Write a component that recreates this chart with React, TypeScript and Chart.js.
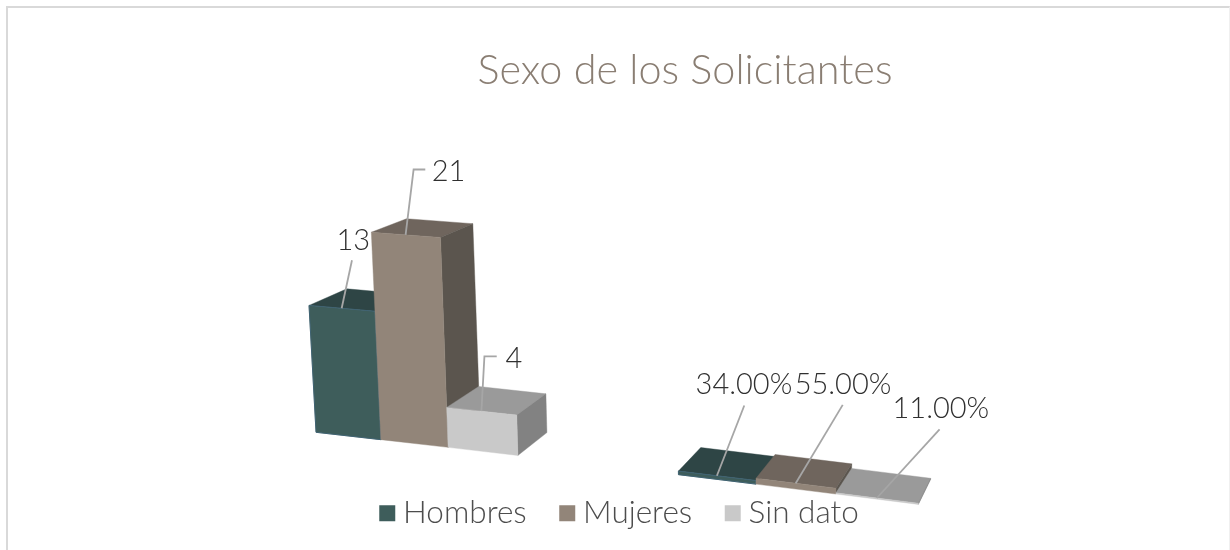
import React, { useEffect, useRef } from "react";
import { Chart, registerables } from "chart.js";

Chart.register(...registerables);

const chartTitle = "Sexo de los Solicitantes";
const groups = ["Cantidad", "Porcentaje"];
const hombres = [13, 0.34];
const mujeres = [21, 0.55];
const sinDato = [4, 0.11];

const FONT = "Lato, 'Open Sans', sans-serif";

const faceColors = [
  { front: "#3e5d5b", top: "#2e4545", side: "#2e4545", edge: "#3f6272" },
  { front: "#928579", top: "#6f655d", side: "#5b554e", edge: "" },
  { front: "#c9c9c9", top: "#9a9a9a", side: "#828282", edge: "" },
];

// label placement relative to the middle of each bar's top front edge: [text, line start, optional knee]
const labelLayout = [
  [
    { text: [11.6, -68], start: [10.3, -48] },
    { text: [27, -91], start: [27.4, -70.3] },
  ],
  [
    { text: [43, -63], start: [19.7, -65.3], knee: [8, -65.3] },
    { text: [47.3, -99], start: [47, -78.3] },
  ],
  [
    { text: [32.5, -53], start: [15.3, -54.7], knee: [3, -54.7] },
    { text: [64, -89], start: [62.7, -68.7] },
  ],
];

// perspective of the picture plane
function project(u: number, h: number) {
  const t = (u - 316) / 70;
  const x0 = 316 + 63.6 * t + 1.226 * t * t;
  const d = x0 - 316;
  const y0 = 432.3 + 0.1125 * d + 0.000012 * d * d;
  const H = h * (1 + 0.00018 * (x0 - 415));
  return [x0 + (x0 - 700) * 0.000144 * H, y0 - H];
}
function deepen(p: number[], f = 0.042) {
  return [p[0] + f * (1210 - p[0]), p[1] + f * (-90 - p[1])];
}
function poly(ctx: CanvasRenderingContext2D, pts: number[][], fill: string) {
  ctx.beginPath();
  pts.forEach((p, i) => (i ? ctx.lineTo(p[0], p[1]) : ctx.moveTo(p[0], p[1])));
  ctx.closePath();
  ctx.fillStyle = fill;
  ctx.fill();
  ctx.strokeStyle = fill;
  ctx.lineWidth = 0.4;
  ctx.stroke();
}

const perspectiveBars = {
  id: "perspectiveBars",
  beforeDatasetDraw() {
    return false;
  },
  afterLayout(chart: any) {
    const title = chart.titleBlock;
    const shiftT = 685 - (title.left + title.right) / 2;
    title.left += shiftT;
    title.right += shiftT;
    const legend = chart.legend;
    const shiftL = 623 - (legend.left + legend.right) / 2;
    legend.left += shiftL;
    legend.right += shiftL;
    if (legend.adjustHitBoxes) legend.adjustHitBoxes();
  },
  afterDatasetsDraw(chart: any) {
    const ctx: CanvasRenderingContext2D = chart.ctx;
    const metas = chart.data.datasets.map((_: any, i: number) => chart.getDatasetMeta(i));
    ctx.save();
    groups.forEach((_, g) => {
      metas.forEach((meta: any, d: number) => {
        const bar = meta.data[g];
        const c = faceColors[d];
        const l = bar.x - bar.width / 2;
        const r = bar.x + bar.width / 2;
        const h = bar.base - bar.y;
        const bl = project(l, 0);
        const br = project(r, 0);
        const tl = project(l, h);
        const tr = project(r, h);
        poly(ctx, [tl, tr, deepen(tr), deepen(tl)], c.top);
        poly(ctx, [tr, br, deepen(br), deepen(tr)], c.side);
        poly(ctx, [bl, br, tr, tl], c.front);
        if (c.edge) {
          ctx.beginPath();
          ctx.moveTo(tl[0], tl[1]);
          ctx.lineTo(bl[0], bl[1]);
          ctx.lineTo(br[0], br[1]);
          ctx.lineTo(tr[0], tr[1]);
          ctx.closePath();
          ctx.strokeStyle = c.edge;
          ctx.lineWidth = 1;
          ctx.stroke();
        }
      });
    });
    metas.forEach((meta: any, d: number) => {
      groups.forEach((_, g) => {
        const bar = meta.data[g];
        const a = project(bar.x, bar.base - bar.y);
        const spec: any = labelLayout[d][g];
        ctx.beginPath();
        ctx.moveTo(a[0] + spec.start[0], a[1] + spec.start[1]);
        if (spec.knee) ctx.lineTo(a[0] + spec.knee[0], a[1] + spec.knee[1]);
        ctx.lineTo(a[0], a[1]);
        ctx.strokeStyle = "#a6a6a6";
        ctx.lineWidth = 1.8;
        ctx.stroke();
        const value = chart.data.datasets[d].data[g];
        const text = g === 0 ? String(value) : (value * 100).toFixed(2) + "%";
        ctx.font = `300 29px ${FONT}`;
        ctx.fillStyle = "#303030";
        ctx.textAlign = "center";
        ctx.textBaseline = "middle";
        ctx.fillText(text, a[0] + spec.text[0], a[1] + spec.text[1]);
      });
    });
    ctx.restore();
  },
};

export default function App() {
  const ref = useRef<HTMLCanvasElement>(null);
  useEffect(() => {
    const chart = new Chart(ref.current as HTMLCanvasElement, {
      type: "bar",
      data: {
        labels: groups,
        datasets: [
          { label: "Hombres", data: hombres, backgroundColor: faceColors[0].front },
          { label: "Mujeres", data: mujeres, backgroundColor: faceColors[1].front },
          { label: "Sin dato", data: sinDato, backgroundColor: faceColors[2].front },
        ],
      },
      options: {
        responsive: false,
        animation: false,
        layout: { padding: { left: 239.7, right: 265, top: 0, bottom: 11 } },
        datasets: { bar: { barPercentage: 1, categoryPercentage: 0.579 } },
        scales: {
          x: { display: false },
          y: { display: false, min: 0, max: 26.6 },
        },
        plugins: {
          tooltip: { enabled: false },
          title: {
            display: true,
            text: chartTitle,
            color: "#8a7e73",
            font: { family: FONT, size: 41.4, weight: "300" },
            padding: { top: 46, bottom: 97 },
          },
          legend: {
            position: "bottom",
            labels: {
              color: "#4d4d4d",
              font: { family: FONT, size: 31.5, weight: "300" },
              usePointStyle: true,
              pointStyle: "rect",
              boxWidth: 0.1,
              boxHeight: 16,
              padding: 40.5,
            },
          },
        },
      } as any,
      plugins: [perspectiveBars],
    });
    return () => chart.destroy();
  }, []);
  return (
    <div style={{ position: "fixed", left: 0, top: 0, width: 1230, height: 550, background: "#fff", overflow: "hidden" }}>
      <div
        style={{
          position: "absolute",
          left: 6,
          top: 6,
          width: 1224,
          height: 560,
          borderTop: "2px solid #d9d9d9",
          borderLeft: "2px solid #d9d9d9",
          borderRight: "1px solid #f0f0f0",
          boxSizing: "border-box",
        }}
      />
      <canvas ref={ref} width={1230} height={550} style={{ position: "absolute", left: 0, top: 0, display: "block" }} />
    </div>
  );
}
